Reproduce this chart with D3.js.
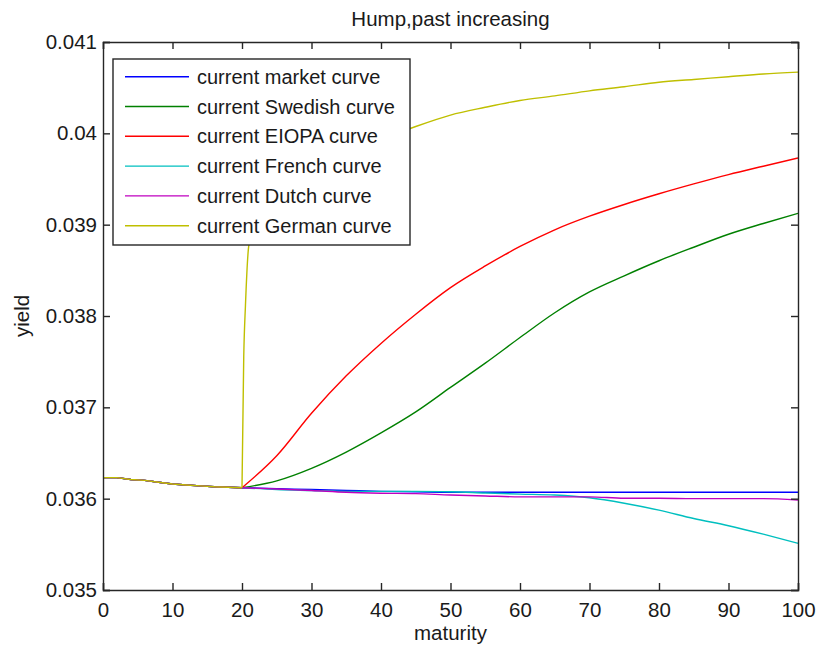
<!DOCTYPE html>
<html>
<head>
<meta charset="utf-8">
<script src="https://cdn.jsdelivr.net/npm/d3@7"></script>
<style>
  body { margin: 0; background: #fff; }
  text { font-family: Arial, "Liberation Sans", sans-serif; fill: #1a1a1a; }
</style>
</head>
<body>
<div id="grafica"></div>
<script>
// maturities 0..20 are shared by every curve (observed part)
const shortMaturities = [0, 2, 4, 6, 8, 10, 12, 14, 16, 18, 20]
const shortYields = [0.03623, 0.03623, 0.03621, 0.03620, 0.03618, 0.03616, 0.03615, 0.03614, 0.03613, 0.036125, 0.03612]

// extrapolated part, every 5 years
const longMaturities = [20, 25, 30, 35, 40, 45, 50, 55, 60, 65, 70, 75, 80, 85, 90, 95, 100]
const marketYields  = [0.03612, 0.03611, 0.03610, 0.03609, 0.03608, 0.036075, 0.03607, 0.03607, 0.03607, 0.03607, 0.03607, 0.03607, 0.03607, 0.03607, 0.03607, 0.03607, 0.03607]
const swedishYields = [0.03612, 0.036195, 0.036332, 0.03651, 0.03672, 0.03695, 0.037218, 0.037484, 0.037764, 0.038036, 0.038264, 0.03844, 0.038605, 0.038753, 0.038895, 0.039013, 0.039124]
const eiopaYields   = [0.03612, 0.03647, 0.036935, 0.037345, 0.0377, 0.03802, 0.038311, 0.038548, 0.038761, 0.038944, 0.039093, 0.039221, 0.039338, 0.039446, 0.039548, 0.03964, 0.03973]
const frenchYields  = [0.03612, 0.0361, 0.03609, 0.03608, 0.03608, 0.03608, 0.036075, 0.036062, 0.03605, 0.03604, 0.03601, 0.03595, 0.035874, 0.035783, 0.035704, 0.035611, 0.035511]
const dutchYields   = [0.03612, 0.036106, 0.03609, 0.03607, 0.03606, 0.036055, 0.03604, 0.03603, 0.03602, 0.03602, 0.03602, 0.036004, 0.036004, 0.036, 0.036, 0.036, 0.035985]

// German curve jumps right after 20
const germanMaturities = [20, 20.25, 20.5, 21, 22.5, 25, 27.5, 30, 35, 40, 45, 50, 55, 60, 65, 70, 75, 80, 85, 90, 95, 100]
const germanYields = [0.03612, 0.03755, 0.03812, 0.03878, 0.03905, 0.03925, 0.0394, 0.03953, 0.03975, 0.03993, 0.040075, 0.0402, 0.040285, 0.04036, 0.04041, 0.040465, 0.04051, 0.04056, 0.04059, 0.04062, 0.04065, 0.04067]

const seriesNames = ["current market curve", "current Swedish curve", "current EIOPA curve",
  "current French curve", "current Dutch curve", "current German curve"]
const seriesColors = ["#0000ff", "#008000", "#ff0000", "#00bfbf", "#bf00bf", "#bfbf00"]

const xTicks = [0, 10, 20, 30, 40, 50, 60, 70, 80, 90, 100]
const yTicks = [0.035, 0.036, 0.037, 0.038, 0.039, 0.04, 0.041]
const yTickLabels = ["0.035", "0.036", "0.037", "0.038", "0.039", "0.04", "0.041"]

const anchoTotal = 817
const altoTotal = 646
const margins = { top: 42, right: 19, bottom: 56, left: 103 }
const ancho = anchoTotal - margins.left - margins.right
const alto = altoTotal - margins.top - margins.bottom

const svg = d3.select("#grafica").append("svg")
  .attr("width", anchoTotal)
  .attr("height", altoTotal)

const g = svg.append("g")
  .attr("transform", `translate(${margins.left},${margins.top})`)

const x = d3.scaleLinear().domain([0, 100]).range([0, ancho])
const y = d3.scaleLinear().domain([0.035, 0.041]).range([alto, 0])

// build the curves: short part (linear) + long part (smooth)
const build = (ms, ys) => ms.map((m, i) => ({ m, v: ys[i] }))
const shortPart = build(shortMaturities, shortYields)
const longParts = [marketYields, swedishYields, eiopaYields, frenchYields, dutchYields]
  .map(ys => build(longMaturities, ys))
longParts.push(build(germanMaturities, germanYields))

g.append("clipPath").attr("id", "clip")
  .append("rect").attr("width", ancho).attr("height", alto)

const lineShort = d3.line().x(d => x(d.m)).y(d => y(d.v))
const lineLong = d3.line().x(d => x(d.m)).y(d => y(d.v)).curve(d3.curveMonotoneX)

const curvas = g.append("g").attr("clip-path", "url(#clip)")
  .selectAll("g")
  .data(longParts)
  .join("g")
  .attr("fill", "none")
  .attr("stroke", (d, i) => seriesColors[i])
  .attr("stroke-width", 1.4)
curvas.append("path").attr("d", () => lineShort(shortPart))
curvas.append("path").attr("d", d => lineLong(d))

// axes, MATLAB style: ticks inward on all four sides
const axisColor = "#262626"
const xAxis = g.append("g").attr("transform", `translate(0,${alto})`)
  .call(d3.axisBottom(x).tickValues(xTicks).tickSize(-7).tickPadding(12).tickFormat(d3.format("d")))
const xTop = g.append("g")
  .call(d3.axisTop(x).tickValues(xTicks).tickSize(-7).tickFormat(""))
const yAxis = g.append("g")
  .call(d3.axisLeft(y).tickValues(yTicks).tickSize(-7).tickPadding(6).tickFormat((d, i) => yTickLabels[i]))
const yRight = g.append("g").attr("transform", `translate(${ancho},0)`)
  .call(d3.axisRight(y).tickValues(yTicks).tickSize(-7).tickFormat(""))

;[xAxis, xTop, yAxis, yRight].forEach(a => {
  a.select(".domain").attr("stroke", axisColor).attr("stroke-width", 1.4)
  a.selectAll(".tick line").attr("stroke", axisColor).attr("stroke-width", 1.4)
  a.selectAll("text").attr("font-size", 20.5).attr("fill", "#1a1a2e")
})
xAxis.selectAll("text").attr("dy", "0.71em")

// labels
g.append("text")
  .attr("x", ancho / 2).attr("y", -16)
  .attr("text-anchor", "middle").attr("font-size", 20.5)
  .text("Hump,past increasing")

g.append("text")
  .attr("x", ancho / 2).attr("y", alto + 50)
  .attr("text-anchor", "middle").attr("font-size", 20.5)
  .text("maturity")

g.append("text")
  .attr("transform", `translate(${-74},${alto / 2}) rotate(-90)`)
  .attr("text-anchor", "middle").attr("font-size", 20.5)
  .text("yield")

// legend
const legend = g.append("g").attr("transform", "translate(10,17)")
legend.append("rect")
  .attr("width", 297).attr("height", 186)
  .attr("fill", "#fff").attr("stroke", axisColor).attr("stroke-width", 1.4)

const rowY = d3.scaleLinear().domain([0, 5]).range([17.7, 166.7])
const items = legend.selectAll(".item")
  .data(seriesNames)
  .join("g")
  .attr("transform", (d, i) => `translate(0,${rowY(i)})`)
items.append("line")
  .attr("x1", 12).attr("x2", 76)
  .attr("stroke", (d, i) => seriesColors[i]).attr("stroke-width", 1.4)
items.append("text")
  .attr("x", 84).attr("dy", "0.35em")
  .attr("font-size", 20)
  .text(d => d)
</script>
</body>
</html>
